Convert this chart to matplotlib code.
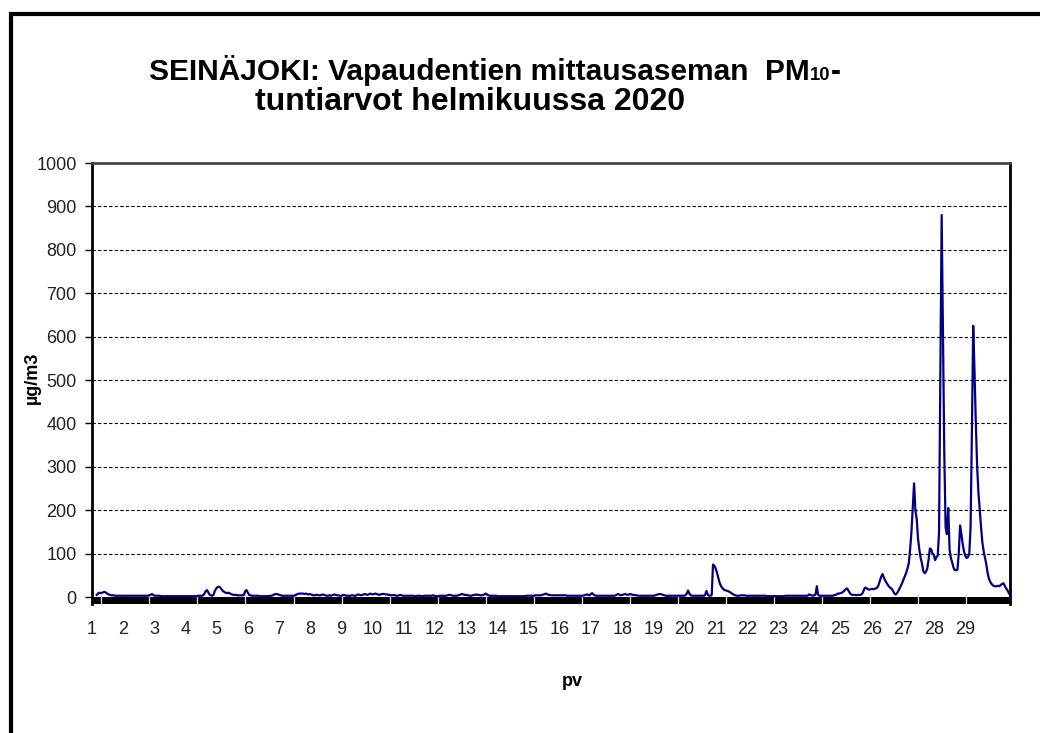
import numpy as np
import matplotlib
matplotlib.use("Agg")
import matplotlib.pyplot as plt
from matplotlib.lines import Line2D

plt.rcParams["font.family"] = ["Liberation Sans", "DejaVu Sans"]

# hourly PM10 values (µg/m3), one list per day of February 2020
day01 = [5, 8, 10, 9, 10, 11, 12, 10, 8, 6, 5, 4, 4, 4, 3, 3, 3, 3, 3, 3, 3, 3, 3, 3]
day02 = [3, 3, 3, 3, 3, 3, 3, 3, 3, 3, 3, 3, 3, 3, 3, 3, 4, 5, 7, 5, 3, 3, 3, 3]
day03 = [3, 2, 2, 2, 2, 2, 2, 2, 2, 2, 2, 2, 2, 2, 2, 2, 2, 2, 2, 2, 2, 2, 2, 2]
day04 = [2, 2, 2, 2, 2, 3, 3, 3, 3, 4, 8, 14, 16, 10, 5, 4, 3, 6, 15, 20, 23, 24, 22, 18]
day05 = [14, 12, 10, 9, 10, 9, 7, 6, 5, 5, 5, 4, 4, 4, 4, 4, 5, 14, 16, 10, 5, 4, 3, 3]
day06 = [3, 3, 3, 3, 2, 2, 2, 2, 2, 2, 2, 2, 3, 3, 4, 6, 7, 7, 6, 5, 4, 3, 3, 3]
day07 = [3, 3, 3, 3, 3, 3, 3, 4, 6, 7, 8, 8, 8, 8, 7, 8, 7, 6, 7, 6, 5, 4, 4, 5]
day08 = [5, 4, 4, 5, 6, 5, 4, 3, 3, 4, 3, 4, 5, 6, 5, 4, 4, 3, 3, 4, 5, 4, 3, 3]
day09 = [3, 3, 4, 4, 3, 3, 5, 6, 5, 4, 5, 6, 7, 6, 5, 6, 8, 7, 6, 7, 8, 7, 6, 5]
day10 = [6, 7, 7, 7, 6, 6, 5, 5, 4, 4, 5, 4, 3, 3, 4, 5, 4, 3, 3, 3, 3, 3, 3, 3]
day11 = [3, 3, 2, 2, 3, 3, 3, 2, 2, 3, 3, 3, 3, 3, 3, 3, 4, 3, 2, 2, 2, 3, 3, 3]
day12 = [3, 3, 3, 4, 5, 5, 4, 3, 3, 3, 3, 4, 5, 6, 7, 6, 5, 5, 4, 4, 3, 3, 4, 5]
day13 = [5, 6, 5, 5, 4, 4, 5, 6, 8, 6, 4, 3, 3, 3, 3, 3, 3, 2, 2, 2, 2, 2, 2, 2]
day14 = [2, 2, 2, 2, 2, 2, 2, 2, 2, 2, 2, 2, 2, 2, 2, 3, 3, 3, 3, 3, 3, 3, 4, 4]
day15 = [4, 4, 4, 5, 6, 7, 8, 6, 5, 5, 4, 4, 4, 4, 4, 4, 4, 4, 4, 4, 4, 4, 3, 3]
day16 = [3, 3, 3, 3, 3, 3, 3, 3, 3, 3, 3, 4, 5, 6, 5, 4, 7, 9, 6, 4, 3, 3, 3, 3]
day17 = [3, 3, 3, 3, 3, 3, 3, 3, 3, 3, 3, 4, 6, 7, 5, 4, 5, 6, 7, 6, 5, 6, 7, 6]
day18 = [5, 5, 4, 4, 3, 3, 3, 3, 3, 3, 3, 3, 3, 3, 3, 3, 3, 4, 5, 6, 7, 7, 6, 5]
day19 = [4, 3, 3, 3, 3, 3, 3, 3, 3, 3, 3, 3, 3, 3, 3, 3, 4, 8, 15, 8, 4, 3, 3, 3]
day20 = [3, 3, 3, 3, 3, 3, 3, 5, 14, 6, 3, 3, 5, 75, 72, 66, 56, 44, 33, 26, 21, 18, 16, 15]
day21 = [14, 13, 11, 9, 7, 5, 4, 3, 3, 3, 4, 4, 4, 4, 3, 3, 3, 3, 3, 3, 3, 3, 3, 3]
day22 = [3, 3, 3, 3, 3, 3, 2, 2, 2, 2, 2, 2, 2, 2, 2, 2, 2, 2, 2, 2, 3, 3, 3, 3]
day23 = [3, 3, 3, 3, 3, 3, 3, 3, 3, 3, 3, 3, 3, 3, 6, 5, 4, 3, 4, 6, 25, 5, 3, 3]
day24 = [3, 3, 3, 3, 3, 3, 3, 3, 3, 4, 5, 6, 8, 8, 9, 10, 12, 15, 18, 20, 15, 10, 6, 5]
day25 = [5, 5, 4, 5, 5, 5, 6, 10, 18, 22, 20, 18, 17, 18, 19, 18, 19, 20, 22, 28, 38, 47, 53, 45]
day26 = [38, 33, 28, 24, 21, 19, 14, 8, 6, 9, 14, 20, 26, 33, 41, 48, 56, 66, 78, 110, 150, 205, 262, 200]
day27 = [180, 135, 110, 90, 78, 60, 55, 58, 65, 85, 112, 110, 100, 98, 85, 92, 95, 150, 520, 880, 600, 330, 160, 145]
day28 = [205, 110, 90, 80, 68, 62, 62, 63, 100, 165, 145, 122, 105, 95, 90, 92, 100, 160, 380, 625, 520, 400, 300, 240]
day29 = [200, 160, 125, 105, 90, 75, 55, 42, 35, 30, 27, 25, 25, 25, 26, 25, 28, 30, 32, 26, 20, 16, 10, 5]

days = [day01, day02, day03, day04, day05, day06, day07, day08, day09, day10,
        day11, day12, day13, day14, day15, day16, day17, day18, day19, day20,
        day21, day22, day23, day24, day25, day26, day27, day28, day29]
day_labels = [str(d) for d in range(1, 30)]
y_ticks = list(range(0, 1001, 100))

values = np.concatenate([np.array(d, dtype=float) for d in days])
x = 1 + np.arange(len(values)) / 24.0

W, H = 1040, 733
fig = plt.figure(figsize=(W / 100, H / 100), dpi=100)
ax = fig.add_axes([92 / W, 129 / H, 918 / W, 441 / H])

ax.set_xlim(1, x[-1])
ax.set_ylim(-16, 1000)

# black band under the zero line
ax.axhspan(-16, 0, color="black", lw=0, zorder=1)

for v in y_ticks[1:-1]:
    ax.axhline(v, color="black", lw=0.8, ls=(0, (3, 2)), zorder=1.5)

ax.plot(x, values, color="#000080", lw=1.6, zorder=3, solid_joinstyle="round")

ax.set_yticks(y_ticks)
ax.tick_params(axis="y", direction="out", length=5, width=1, color="black",
               labelsize=13, pad=6, labelcolor="#222222")

label_pos = [0.85 + i * 0.989 for i in range(len(day_labels))]
ax.set_xticks(label_pos)
ax.set_xticklabels(day_labels)
ax.set_xticks([1.148 + k * 1.523 for k in range(19)], minor=True)
ax.tick_params(axis="x", which="major", length=0, labelsize=13, pad=12,
               labelcolor="#222222")
ax.tick_params(axis="x", which="minor", direction="in", length=7, width=1,
               color="#d0d0d0")

for side in ["left", "right"]:
    ax.spines[side].set_linewidth(2)
    ax.spines[side].set_color("black")
ax.spines["top"].set_linewidth(2)
ax.spines["top"].set_color("#444444")
ax.spines["bottom"].set_visible(False)

# outer frame (top and left edges of the chart area)
fig.add_artist(Line2D([10.5 / W, 10.5 / W, 1.0], [0.0, 1 - 14 / H, 1 - 14 / H],
                      transform=fig.transFigure, color="black", lw=3,
                      solid_joinstyle="miter"))

# title, with small "10" in PM10
fs = 21.5
y1 = 1 - 80 / H
t1 = fig.text(0, y1, "SEINÄJOKI: Vapaudentien mittausaseman  PM",
              fontsize=fs, fontweight="bold", ha="left", va="baseline")
t2 = fig.text(0, y1, "10", fontsize=fs * 0.62, fontweight="bold",
              ha="left", va="baseline")
t3 = fig.text(0, y1, "-", fontsize=fs, fontweight="bold",
              ha="left", va="baseline")
fig.canvas.draw()
r = fig.canvas.get_renderer()
w1 = t1.get_window_extent(r).width
w2 = t2.get_window_extent(r).width
w3 = t3.get_window_extent(r).width
left = 495 - (w1 + w2 + w3) / 2
t1.set_x(left / W)
t2.set_x((left + w1) / W)
t3.set_x((left + w1 + w2) / W)
fig.text(470 / W, 1 - 110 / H, "tuntiarvot helmikuussa 2020", fontsize=23,
         fontweight="bold", ha="center", va="baseline")

fig.text(32 / W, 1 - 378 / H, "µg/m3", rotation=90, fontsize=13,
         fontweight="bold", ha="center", va="center")
fig.text(572 / W, 1 - 681 / H, "pv", fontsize=13, fontweight="bold",
         ha="center", va="center")

fig.savefig("out.png", dpi=100)
